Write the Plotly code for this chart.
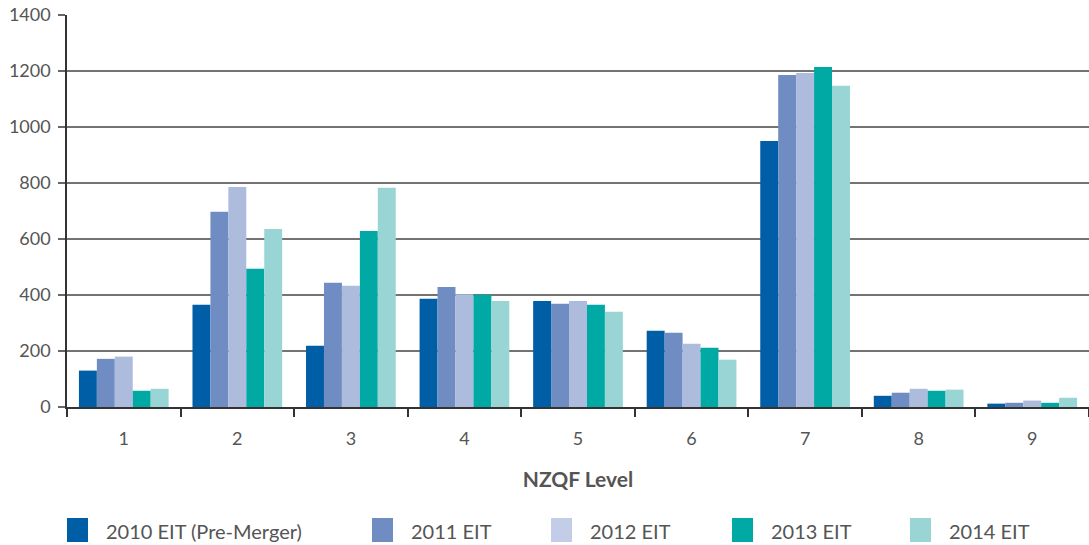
import plotly.graph_objects as go

categories = ["1", "2", "3", "4", "5", "6", "7", "8", "9"]
series_names = ["2010 EIT (Pre-Merger)", "2011 EIT", "2012 EIT", "2013 EIT", "2014 EIT"]
v2010 = [130, 365, 219, 387, 379, 272, 950, 40, 12]
v2011 = [172, 697, 444, 429, 369, 265, 1186, 51, 15]
v2012 = [180, 786, 433, 403, 379, 226, 1193, 65, 23]
v2013 = [58, 494, 629, 401, 365, 212, 1214, 58, 15]
v2014 = [65, 636, 783, 379, 340, 169, 1147, 62, 33]
series_values = [v2010, v2011, v2012, v2013, v2014]
bar_colors = ["#005EA6", "#6F8DC2", "#ADBBDD", "#00A9A3", "#98D5D4"]
legend_colors = ["#005EA6", "#6F8DC2", "#C3CDE7", "#00A9A3", "#98D5D4"]
y_ticks = [0, 200, 400, 600, 800, 1000, 1200, 1400]
x_title = "NZQF Level"

W, H = 1089, 545
L, R, T, B = 67, 0, 15, 138
pw, ph = W - L - R, H - T - B
FONT = "Lato"
GREY = "#555555"

fig = go.Figure()
for name, vals, col in zip(series_names, series_values, bar_colors):
    fig.add_trace(go.Bar(x=categories, y=vals, name=name, marker=dict(color=col, line=dict(width=0))))

def px2x(px):
    return (px - L) / pw

def py2y(py):
    return (H - B - py) / ph

shapes = []
annotations = []
sw_x = [67, 372, 551, 732, 910]
for i, (name, col) in enumerate(zip(series_names, legend_colors)):
    x0 = sw_x[i]
    shapes.append(dict(type="rect", xref="paper", yref="paper",
                       x0=px2x(x0), x1=px2x(x0 + 21), y0=py2y(542), y1=py2y(518),
                       fillcolor=col, line=dict(width=0)))
    annotations.append(dict(xref="paper", yref="paper", x=px2x(x0 + 37), y=py2y(531),
                            text=name, showarrow=False, xanchor="left", yanchor="middle",
                            font=dict(family=FONT, size=20, color=GREY)))

fig.update_layout(
    width=W, height=H,
    margin=dict(l=L, r=R, t=T, b=B, pad=0),
    paper_bgcolor="white", plot_bgcolor="white",
    barmode="group", bargap=0.21, bargroupgap=0,
    showlegend=False,
    font=dict(family=FONT, size=17, color=GREY),
    shapes=shapes, annotations=annotations,
)
fig.update_xaxes(
    type="category", showline=True, linecolor="#333333", linewidth=1.5,
    ticks="outside", tickson="boundaries", ticklen=8, tickcolor="#333333", tickwidth=1.5,
    ticklabelstandoff=15, showgrid=False,
    tickfont=dict(family=FONT, size=18, color=GREY),
    title=dict(text="<b>" + x_title + "</b>", standoff=24,
               font=dict(family=FONT, size=21, color=GREY)),
)
fig.update_yaxes(
    range=[0, 1400], tickvals=y_ticks, showline=True, linecolor="#333333", linewidth=1.5,
    ticks="outside", ticklen=7, tickcolor="#666666", tickwidth=1.5,
    showgrid=True, gridcolor="#737373", gridwidth=1.5, zeroline=False,
    ticklabelstandoff=4,
    tickfont=dict(family=FONT, size=18, color=GREY),
)

fig.write_html("out.html", config={"displayModeBar": False},
               post_script="document.body.style.margin='0';document.body.style.padding='0';")
